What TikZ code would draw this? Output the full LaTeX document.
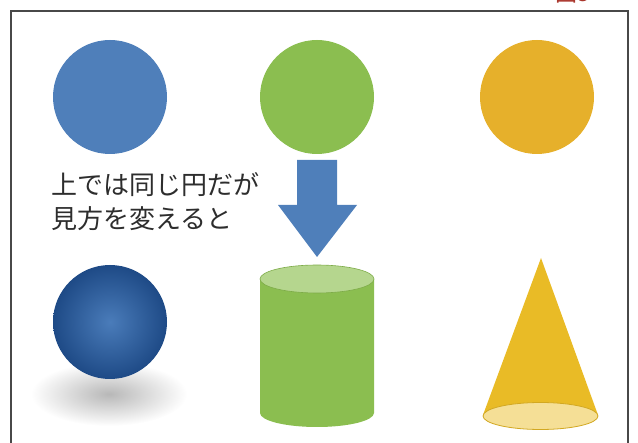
\documentclass[tikz,border=0pt]{standalone}
\usepackage{fontspec}
\newfontfamily\jpfont{Noto Sans CJK JP}
\usepackage{tikz}
\usetikzlibrary{positioning}
\definecolor{discblue}{RGB}{79, 127, 186}
\definecolor{discgreen}{RGB}{139, 190, 80}
\definecolor{discorange}{RGB}{230, 176, 43}
\definecolor{ballcore}{RGB}{74, 124, 186}
\definecolor{balledge}{RGB}{30, 74, 134}
\definecolor{cyltop}{RGB}{181, 214, 142}
\definecolor{conefill}{RGB}{233, 187, 38}
\definecolor{conebase}{RGB}{245, 223, 150}
\definecolor{framegray}{RGB}{72, 72, 72}
\definecolor{figred}{RGB}{170, 55, 45}
\definecolor{textgray}{RGB}{45, 45, 45}

\begin{document}
\begin{tikzpicture}[x=0.5pt, y=-0.5pt,
    disc/.style={circle, minimum size=57pt, inner sep=0pt},
    lbl/.style={font=\jpfont\fontsize{13}{17}\selectfont, text=textgray,
                align=left, inner sep=0pt}]
  \useasboundingbox (0,0) rectangle (638,443);

  % Figure number (runs off the top) and frame
  \node[font=\jpfont\fontsize{11}{13}\selectfont, text=figred,
        anchor=base west, inner sep=0pt] (fignum) at (555,2) {図3};
  \draw[framegray, line width=1pt] (11,11) rectangle (628,470);

  % Top row: three flat discs
  \foreach \x/\c/\n in {110/discblue/blue, 317/discgreen/green,
                        537/discorange/orange}{
    \node[disc, fill=\c] (\n) at (\x,97) {};
  }

  % Down arrow
  \fill[discblue] (297,160) -- (337,160) -- (337,205) -- (357,205)
    -- (317,257) -- (278,205) -- (297,205) -- cycle;

  % Caption
  \node[lbl, anchor=north west] (caption) at (51,172)
    {上では同じ円だが\\見方を変えると};

  % Sphere with its shadow
  \shade[inner color=black!28, outer color=white] (109,394) ellipse (78 and 32);
  \shade[inner color=ballcore, outer color=balledge] (110,322) circle (57);

  % Cylinder
  \fill[discgreen] (260,279) -- (260,413) arc (180:0:57 and 14)
    -- (374,279) -- cycle;
  \filldraw[fill=cyltop, draw=discgreen!90!black, line width=0.3pt]
    (317,279) ellipse (57 and 14);

  % Cone
  \fill[conefill] (541,258) -- (483,415) arc (180:0:57.5 and 13.5) -- cycle;
  \filldraw[fill=conebase, draw=conefill!90!black, line width=0.4pt]
    (540.5,416) ellipse (57.5 and 13.5);
\end{tikzpicture}
\end{document}
